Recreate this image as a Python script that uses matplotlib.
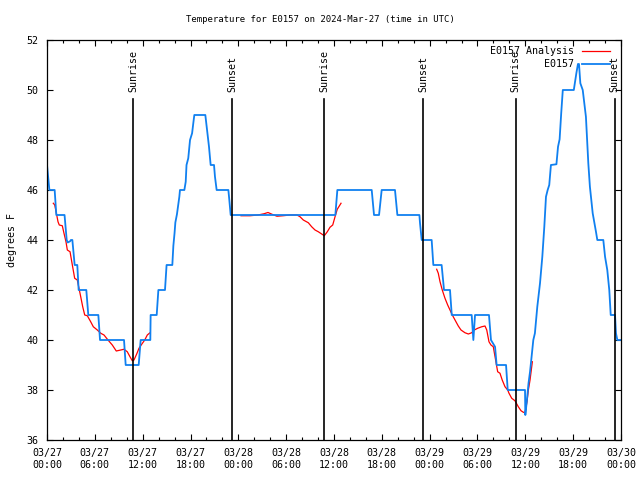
import numpy as np
import matplotlib
matplotlib.use('Agg')
import matplotlib.pyplot as plt

# hours since 2024-03-27 00:00 UTC
obs_hours = [0, 0.3, 0.96, 1.17, 2.2, 2.47, 2.6, 2.9, 3.0, 3.18, 3.47, 3.8, 3.97, 4.93, 5.18,
             6.44, 6.65, 9.66, 9.87, 11.5, 11.75, 12.96, 13.0, 13.76, 13.97, 14.8, 15.0, 15.72,
             15.85, 16.0, 16.1, 16.3, 16.6, 16.68, 17.23, 17.4, 17.5, 17.72, 17.94, 18.2, 18.35,
             18.48, 19.86, 20.03, 20.15, 20.32, 20.45, 20.53, 20.95, 21.07, 21.28, 22.75, 22.87,
             23.04, 36.17, 36.42, 40.73, 41.02, 41.65, 41.98, 43.65, 43.95, 46.71, 46.79, 47.0,
             48.25, 48.46, 49.5, 49.8, 50.55, 50.77, 53.27, 53.48, 53.69, 55.44, 55.69, 56.2,
             56.4, 57.58, 57.79, 59.96, 60.0, 60.2, 60.4, 60.59, 60.72, 61.0, 61.2, 61.5, 61.84,
             62.13, 62.38, 62.59, 62.8, 63.0, 63.21, 63.9, 64.1, 64.3, 64.5, 64.7, 66.08, 66.4,
             66.6, 66.73, 66.9, 67.2, 67.6, 67.9, 68.1, 68.45, 68.86, 69.03, 69.78, 70.0, 70.28,
             70.53, 70.71, 71.25, 71.37, 71.54, 72.0]
obs_temp = [47.0, 46.0, 46.0, 45.0, 45.0, 44.0, 43.9, 43.95, 44.0, 44.0, 43.0, 43.0, 42.0, 42.0, 41.0,
            41.0, 40.0, 40.0, 39.0, 39.0, 40.0, 40.0, 41.0, 41.0, 42.0, 42.0, 43.0, 43.0,
            43.77, 44.28, 44.7, 45.03, 45.73, 46.0, 46.0, 46.33, 47.0, 47.27, 48.0, 48.27, 48.67,
            49.0, 49.0, 48.53, 48.2, 47.73, 47.27, 47.0, 47.0, 46.53, 46.0, 46.0, 45.6,
            45.0, 45.0, 46.0, 46.0, 45.0, 45.0, 46.0, 46.0, 45.0, 45.0, 44.67, 44.0,
            44.0, 43.0, 43.0, 42.0, 42.0, 41.0, 41.0, 40.0, 41.0, 41.0, 40.0, 39.73,
            39.0, 39.0, 38.0, 38.0, 37.0, 37.6, 38.27, 38.73, 39.13, 40.0, 40.27, 41.33, 42.27,
            43.33, 44.53, 45.73, 46.0, 46.2, 47.0, 47.03, 47.73, 48.03, 49.07, 50.0, 50.0, 50.67,
            51.04, 51.04, 50.27, 50.0, 48.93, 47.07, 46.13, 45.07, 44.33, 44.0, 44.0, 43.33, 42.8,
            42.0, 41.0, 41.0, 40.27, 40.0, 40.0]

# analysis curve, three pieces
ana1_hours = [0.79, 0.97, 1.22, 1.38, 1.54, 1.92, 2.13, 2.38, 2.55, 2.89, 3.14, 3.47, 3.8, 4.23,
              4.48, 4.73, 5.06, 5.48, 5.81, 6.31, 6.74, 7.15, 7.65, 8.19, 8.69, 9.25, 9.66,
              10.07, 10.41, 10.7, 10.91, 11.25, 11.54, 11.88, 12.26, 12.58, 12.92]
ana1_temp = [45.47, 45.4, 45.0, 44.73, 44.6, 44.57, 44.27, 43.93, 43.6, 43.53, 43.07, 42.47, 42.4, 41.73,
             41.33, 41.0, 40.97, 40.73, 40.53, 40.4, 40.27, 40.2, 40.0, 39.8, 39.56, 39.6, 39.63,
             39.53, 39.33, 39.17, 39.2, 39.44, 39.67, 39.83, 40.0, 40.2, 40.29]
ana2_hours = [24.34, 25.46, 26.47, 27.22, 27.72, 28.22, 28.85, 29.6, 30.48, 31.36, 31.74, 32.15,
              32.78, 33.2, 33.62, 34.03, 34.46, 34.78, 35.16, 35.5, 35.84, 36.13, 36.41, 36.88]
ana2_temp = [44.97, 44.97, 45.0, 45.05, 45.1, 45.03, 44.95, 44.97, 45.0, 45.0, 44.93, 44.8,
             44.69, 44.53, 44.4, 44.33, 44.24, 44.17, 44.33, 44.51, 44.6, 44.93, 45.23, 45.47]
ana3_hours = [48.88, 49.08, 49.3, 49.58, 49.92, 50.26, 50.55, 50.84, 51.18, 51.59, 51.93, 52.43,
              52.85, 53.27, 53.6, 54.03, 54.53, 54.94, 55.16, 55.44, 55.69, 55.98, 56.2, 56.53,
              56.82, 57.1, 57.45, 57.79, 57.95, 58.29, 58.7, 59.12, 59.46, 59.75, 59.96, 60.21,
              60.38, 60.59, 60.88]
ana3_temp = [42.83, 42.67, 42.33, 42.0, 41.67, 41.4, 41.2, 41.0, 40.8, 40.56, 40.4, 40.29,
             40.24, 40.29, 40.4, 40.47, 40.53, 40.56, 40.4, 39.93, 39.8, 39.73, 39.33, 38.73,
             38.67, 38.4, 38.13, 38.0, 37.87, 37.67, 37.57, 37.33, 37.17, 37.11, 37.09, 37.53,
             38.0, 38.4, 39.13]

sun_hours = [10.78, 23.2, 34.76, 47.18, 58.8, 71.22]
sun_labels = ['Sunrise', 'Sunset', 'Sunrise', 'Sunset', 'Sunrise', 'Sunset']

tick_hours = list(range(0, 73, 6))
tick_labels = ['03/27\n00:00', '03/27\n06:00', '03/27\n12:00', '03/27\n18:00',
               '03/28\n00:00', '03/28\n06:00', '03/28\n12:00', '03/28\n18:00',
               '03/29\n00:00', '03/29\n06:00', '03/29\n12:00', '03/29\n18:00',
               '03/30\n00:00']

plt.rcParams['font.family'] = ['DejaVu Sans Mono']
plt.rcParams['font.size'] = 7.2

fig = plt.figure(figsize=(6.4, 4.8), dpi=100)
ax = fig.add_axes([47/640, 40/480, 574/640, 400/480])

ana_x = ana1_hours + [np.nan] + ana2_hours + [np.nan] + ana3_hours
ana_y = ana1_temp + [np.nan] + ana2_temp + [np.nan] + ana3_temp
ax.plot(ana_x, ana_y, color='red', lw=0.9, label='E0157 Analysis')
ax.plot(obs_hours, obs_temp, color='#1080f0', lw=1.3, label='E0157')

for h, lab in zip(sun_hours, sun_labels):
    ax.plot([h, h], [36, 49.64], color='black', lw=1.2)
    ax.text(h, 49.92, lab, rotation=90, ha='center', va='bottom', fontsize=7.2)

ax.set_xlim(0, 72)
ax.set_ylim(36, 52)
ax.set_xticks(tick_hours)
ax.set_xticklabels(tick_labels)
ax.set_xticks(range(0, 73, 2), minor=True)
ax.set_yticks(range(36, 53, 2))
ax.tick_params(direction='in', top=True, right=True, length=4, width=0.8, pad=6)
ax.tick_params(which='minor', direction='in', top=True, length=2.2, width=0.8)
for s in ax.spines.values():
    s.set_linewidth(0.9)

ax.set_ylabel('degrees F', labelpad=7)
fig.text(0.5, 1 - 20/480, 'Temperature for E0157 on 2024-Mar-27 (time in UTC)',
         ha='center', va='center', fontsize=6.45)
ax.legend(loc='upper right', bbox_to_anchor=(0.9878, 0.994), frameon=False, markerfirst=False,
          handlelength=2.8, borderaxespad=0, labelspacing=0.3, handletextpad=0.8, fontsize=7.2)

fig.savefig('out.png', dpi=100)
